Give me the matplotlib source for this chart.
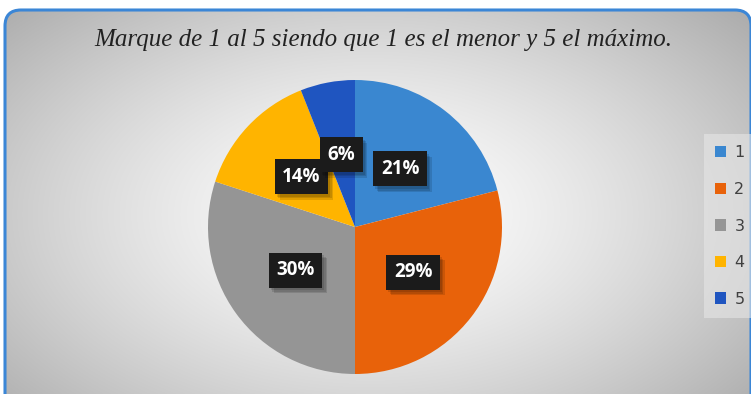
import numpy as np
import matplotlib.pyplot as plt
from matplotlib.patches import FancyBboxPatch
from matplotlib import patheffects as pe

# survey answers, scale 1..5
categorias = ['1', '2', '3', '4', '5']
porcentajes = [21, 29, 30, 14, 6]
colores = ['#3A87D0', '#E8620A', '#959595', '#FFB400', '#1F55C0']
titulo = 'Marque de 1 al 5 siendo que 1 es el menor y 5 el máximo.'

W, H = 751, 394
fig = plt.figure(figsize=(W / 100, H / 100), dpi=100)
ax = fig.add_axes([0, 0, 1, 1])

# rounded chart frame, runs off the right and bottom edges
frame = FancyBboxPatch((5, -30), 746, H - 10 + 30,
                       boxstyle='round,pad=0,rounding_size=16',
                       facecolor='none', edgecolor='#3B86D6', linewidth=2.2, zorder=3)
ax.add_patch(frame)

# radial grey background inside the frame
yy, xx = np.mgrid[0:H, 0:W]
r = np.sqrt(((xx - 370) / 420.0) ** 2 + ((yy - (H - 215)) / 250.0) ** 2)
shade = np.clip(1.0 - 0.25 * np.clip(r, 0, 1.3) ** 1.4, 0, 1)
img = np.dstack([shade, shade, shade])
bg = ax.imshow(img, extent=[0, W, 0, H], origin='lower', zorder=0)
bg.set_clip_path(frame)

ax.text(383, H - 40, titulo, ha='center', va='center', fontsize=18,
        family='Liberation Serif', style='italic', color='#222222')

wedges, textos, autotextos = ax.pie(
    porcentajes, colors=colores, startangle=90, counterclock=False,
    center=(355, H - 227), radius=147, autopct='%1.0f%%', pctdistance=0.5,
    wedgeprops=dict(linewidth=0), frame=True)
ax.set_xlim(0, W)
ax.set_ylim(0, H)
ax.set_aspect('equal')
ax.axis('off')

# soft drop shadow: a few faint offsets stacked
sombra = [pe.SimplePatchShadow(offset=(dx, -dy), shadow_rgbFace='black', alpha=0.12)
          for dx, dy in [(1.5, 2), (2.5, 3), (3.5, 4)]]
for t in autotextos:
    t.set_color('white')
    t.set_fontweight('bold')
    t.set_fontsize(13.5)
    t.set_family('Open Sans')
    t.set_bbox(dict(boxstyle='square,pad=0.4', facecolor='#1b1b1b', edgecolor='none'))
    t.get_bbox_patch().set_path_effects(sombra + [pe.Normal()])

leg = ax.legend(wedges, categorias, loc='center left', bbox_to_anchor=(704 / W, 1 - 226 / H),
                bbox_transform=fig.transFigure, frameon=True, fontsize=11.5,
                handlelength=0.7, handleheight=0.7, handletextpad=0.5,
                labelspacing=1.35, borderpad=0.7, borderaxespad=0, fancybox=False)
leg.get_frame().set_facecolor('#e6e6e6')
leg.get_frame().set_edgecolor('none')
leg.get_frame().set_alpha(0.6)
for txt in leg.get_texts():
    txt.set_color('#404040')

fig.savefig('out.png', dpi=100)
